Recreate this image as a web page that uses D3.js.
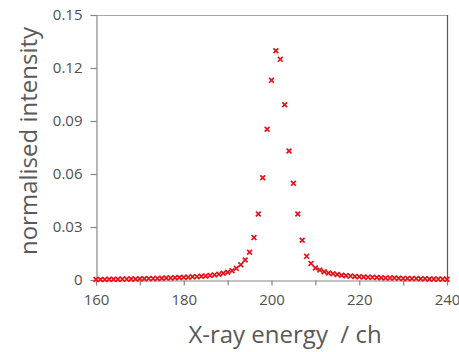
<!DOCTYPE html>
<html>
<head>
<meta charset="utf-8">
<script src="https://cdn.jsdelivr.net/npm/d3@7"></script>
<style>
  body { margin: 0; background: #fff; }
  svg text { font-family: "Open Sans", "Noto Sans", sans-serif; fill: #595959; }
</style>
</head>
<body>
<div id="chart"></div>
<script>
// channel numbers 160..240
var channels = d3.range(160, 241);

// normalised intensity per channel
var intensity = [
  0.0003, 0.0003, 0.0003, 0.0004, 0.0004, 0.0004, 0.0005, 0.0005, 0.0006, 0.0006,
  0.0007, 0.0007, 0.0008, 0.0008, 0.0009, 0.0010, 0.0011, 0.0012, 0.0013, 0.0014,
  0.0015, 0.0016, 0.0018, 0.0019, 0.0021, 0.0023, 0.0026, 0.0029, 0.0033, 0.0038,
  0.0044, 0.0053, 0.0066, 0.0086, 0.0113, 0.0157, 0.0240, 0.0374, 0.0579, 0.0853,
  0.1130, 0.1298, 0.1249, 0.0992, 0.0730, 0.0547, 0.0374, 0.0225, 0.0134, 0.0094,
  0.0068, 0.0057, 0.0047, 0.0040, 0.0035, 0.0031, 0.0027, 0.0024, 0.0022, 0.0020,
  0.0018, 0.0017, 0.0016, 0.0015, 0.0014, 0.0013, 0.0012, 0.0011, 0.0011, 0.0010,
  0.0009, 0.0009, 0.0008, 0.0008, 0.0007, 0.0007, 0.0006, 0.0006, 0.0005, 0.0005,
  0.0004
];

var xTicks = [160, 170, 180, 190, 200, 210, 220, 230, 240];
var xTickLabels = [160, 180, 200, 220, 240];
var yTicks = [0, 0.03, 0.06, 0.09, 0.12, 0.15];

var width = 459, height = 352;
var margin = {left: 96, top: 15, right: 12, bottom: 72};

var svg = d3.select("#chart").append("svg")
    .attr("width", width)
    .attr("height", height);

var x = d3.scaleLinear()
    .domain([160, 240])
    .range([margin.left, width - margin.right]);

var y = d3.scaleLinear()
    .domain([0, 0.15])
    .range([height - margin.bottom, margin.top]);

// frame top and right
svg.append("line")
    .attr("x1", x(160)).attr("x2", x(240))
    .attr("y1", y(0.15) + 0.5).attr("y2", y(0.15) + 0.5)
    .style("stroke", "#a6a6a6").style("stroke-width", 1.2);
svg.append("line")
    .attr("x1", x(240) + 0.5).attr("x2", x(240) + 0.5)
    .attr("y1", y(0.15)).attr("y2", y(0))
    .style("stroke", "#595959").style("stroke-width", 1.2);

// x axis
var xAxis = svg.append("g")
    .attr("transform", "translate(0," + (y(0) + 0.5) + ")")
    .call(d3.axisBottom(x)
      .tickValues(xTicks)
      .tickSize(5)
      .tickSizeOuter(0)
      .tickPadding(9)
      .tickFormat(function (d) { return xTickLabels.indexOf(d) >= 0 ? d : ""; }));

// y axis
var yAxis = svg.append("g")
    .attr("transform", "translate(" + (x(160) + 0.5) + ",0)")
    .call(d3.axisLeft(y)
      .tickValues(yTicks)
      .tickSize(6)
      .tickSizeOuter(0)
      .tickPadding(8)
      .tickFormat(function (d) { return d === 0 ? "0" : d3.format(".2f")(d); }));

svg.selectAll(".domain, .tick line")
    .style("stroke", "#868686")
    .style("stroke-width", 1.2);
svg.selectAll(".tick text")
    .style("font-size", "15px")
    .style("fill", "#505050")
    .style("font-family", "Open Sans, sans-serif");

// markers (x shape)
var s = 2.4;
var pts = svg.append("g").selectAll("path")
    .data(channels.map(function (c, i) { return {c: c, v: intensity[i]}; }))
    .enter()
    .append("path")
    .attr("transform", function (d) { return "translate(" + x(d.c) + "," + y(d.v) + ")"; })
    .attr("d", "M" + (-s) + "," + (-s) + "L" + s + "," + s + "M" + (-s) + "," + s + "L" + s + "," + (-s))
    .style("stroke", "#e8121b")
    .style("stroke-width", 1.7)
    .style("fill", "none");

// axis titles
svg.append("text")
    .attr("transform", "translate(" + 37 + "," + 141 + ") rotate(-90)")
    .style("text-anchor", "middle")
    .style("font-size", "24px")
    .text("normalised intensity");

svg.append("text")
    .attr("x", 285)
    .attr("y", 343)
    .style("text-anchor", "middle")
    .style("font-size", "24px")
    .attr("xml:space", "preserve")
    .text("X-ray energy  / ch");
</script>
</body>
</html>
